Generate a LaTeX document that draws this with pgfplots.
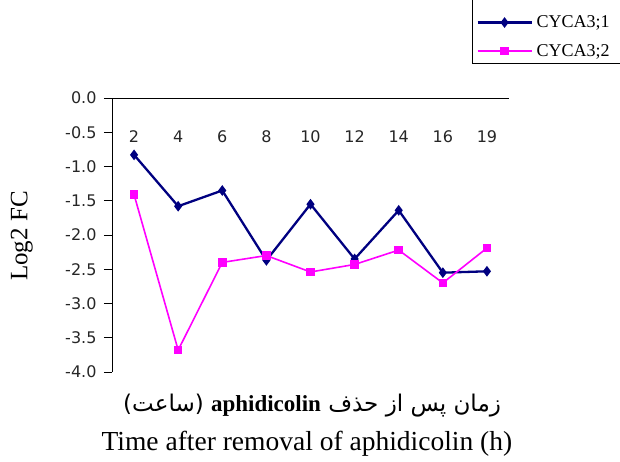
\documentclass[border=0pt]{standalone}
\usepackage{fontspec}
\setmainfont{Liberation Serif}
\newfontfamily\ticksfont{DejaVu Sans}
\newfontfamily\arabicfont[Script=Arabic]{DejaVu Sans}
\TeXXeTstate=1
\usepackage{pgfplots}
\pgfplotsset{compat=1.18}
\definecolor{navyline}{RGB}{0,0,128}
\definecolor{pinkline}{RGB}{255,0,255}

\begin{document}
\begin{tikzpicture}
\path[use as bounding box] (-112pt,-89pt) rectangle (508pt,372pt);
\begin{axis}[
    scale only axis,
    width=397pt, height=274pt,
    at={(0pt,0pt)}, anchor=south west,
    xmin=0.5, xmax=9.5,
    ymin=-4, ymax=0,
    axis y line*=left,
    axis x line*=top,
    ytick={-4,-3.5,...,0},
    /pgf/number format/fixed,
    /pgf/number format/fixed zerofill,
    /pgf/number format/precision=1,
    /pgf/number format/assume math mode=true,
    yticklabel style={font=\ticksfont\fontsize{16}{18}\selectfont, color=black!85, xshift=-4pt},
    xtick={1,...,9},
    xticklabels={2,4,6,8,10,12,14,16,19},
    xticklabel style={font=\ticksfont\fontsize{16}{18}\selectfont, color=black!85, anchor=north, yshift=-37pt},
    major x tick style={draw=none},
    extra x ticks={1.5,2.5,...,9.5},
    extra x tick labels={},
    extra x tick style={major tick length=7pt, tick align=outside, major tick style={draw=black}},
    tick align=outside,
    major tick length=8pt,
    axis line style={black, line width=0.9pt},
    every tick/.style={black, line width=0.9pt},
    ylabel={Log2 FC},
    ylabel style={at={(axis description cs:-0.227,0.496)}, anchor=center, font=\fontsize{25}{28}\selectfont},
    xlabel={Time after removal of aphidicolin (h)},
    xlabel style={at={(axis description cs:0.491,-0.262)}, anchor=center, font=\fontsize{27.5}{30}\selectfont},
    clip=false,
    legend style={at={(axis description cs:0.907,1.124)}, anchor=south west,
        draw=black, line width=0.7pt, font=\fontsize{18}{20}\selectfont,
        inner xsep=4pt, inner ysep=4pt, row sep=11pt},
    legend cell align=left,
    legend image code/.code={
        \draw[mark repeat=2, mark phase=2] plot coordinates {(0pt,0pt) (27pt,0pt) (54pt,0pt)};},
]
\addlegendimage{empty legend}
\addlegendentry{\strut}
\addplot[navyline, line width=2.3pt, mark=diamond*, mark size=3.5pt] coordinates {
    (1,-0.83) (2,-1.58) (3,-1.35) (4,-2.37) (5,-1.55)
    (6,-2.35) (7,-1.64) (8,-2.55) (9,-2.53)
};
\addlegendentry{\hspace*{2pt}CYCA3;1\rule{50pt}{0pt}}
\addplot[pinkline, line width=1.6pt, mark=square*, mark size=3.5pt] coordinates {
    (1,-1.41) (2,-3.68) (3,-2.40) (4,-2.30) (5,-2.54)
    (6,-2.43) (7,-2.22) (8,-2.70) (9,-2.19)
};
\addlegendentry{\hspace*{2pt}CYCA3;2\rule{50pt}{0pt}}
\node[font=\fontsize{23}{26}\selectfont, anchor=center] at (axis description cs:0.504,-0.121)
    {\arabicfont\beginR زمان پس از حذف {\rmfamily\bfseries\beginL aphidicolin\endL} (ساعت)\endR};
\end{axis}
\end{tikzpicture}
\end{document}
